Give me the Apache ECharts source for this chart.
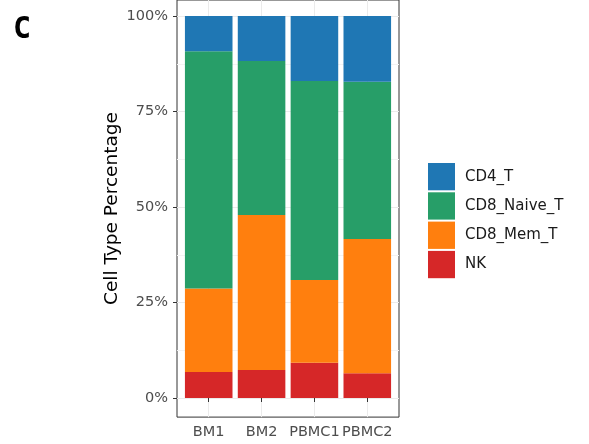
<!DOCTYPE html>
<html>
<head>
<meta charset="utf-8">
<script src="https://cdn.jsdelivr.net/npm/echarts@6/dist/echarts.min.js"></script>
<style>
  html, body { margin: 0; padding: 0; background: #ffffff; }
  #chart { width: 589px; height: 444px; }
</style>
</head>
<body>
<div id="chart"></div>
<script>
// Samples and cell-type composition (percent of cells per sample)
const categories = ['BM1', 'BM2', 'PBMC1', 'PBMC2'];
const cellTypes = ['CD4_T', 'CD8_Naive_T', 'CD8_Mem_T', 'NK'];
const nk = [6.8, 7.3, 9.2, 6.5];
const cd8Mem = [21.9, 40.6, 21.7, 35.1];
const cd8Naive = [62.1, 40.3, 52.1, 41.2];
const cd4 = [9.2, 11.8, 17.0, 17.2];
const yTicks = [0, 25, 50, 75, 100];
const yMinor = [12.5, 37.5, 62.5, 87.5];

const colors = {
  CD4_T: '#1f77b4',
  CD8_Naive_T: '#279e68',
  CD8_Mem_T: '#ff7f0e',
  NK: '#d62728'
};

// Category positions 1..n on a continuous frame axis, padded by 0.6 on each side
const xPos = categories.map((_, i) => i + 1);
const xMin = 0.4;
const xMax = categories.length + 0.6;
// The panel runs off the top edge of the canvas, so the visible range ends a little above 100%
const yMin = -5, yMax = 104.2;

const plotLeft = 177, plotRight = 399, plotTop = 0, plotBottom = 417.1;
const W = 589, H = 444;
const unitPx = (plotRight - plotLeft) / (xMax - xMin);

// Stacked from the bottom: NK, CD8_Mem_T, CD8_Naive_T, CD4_T
const stackOrder = [
  ['NK', nk],
  ['CD8_Mem_T', cd8Mem],
  ['CD8_Naive_T', cd8Naive],
  ['CD4_T', cd4]
];

const font = 'DejaVu Sans';
const tickColor = '#333333';

const chart = echarts.init(document.getElementById('chart'), null, { renderer: 'canvas' });

chart.setOption({
  animation: false,
  backgroundColor: '#ffffff',
  title: {
    text: 'C',
    left: 8,
    top: 10,
    padding: 5,
    textStyle: { fontFamily: 'DejaVu Sans Mono', fontWeight: 'bold', fontSize: 30, color: '#000000' }
  },
  grid: [
    {
      // panel frame: gridlines, ticks and labels
      left: plotLeft,
      right: W - plotRight,
      top: plotTop,
      bottom: H - plotBottom,
      show: true,
      backgroundColor: '#ffffff',
      borderColor: '#333333',
      borderWidth: 1
    },
    {
      // bar area: one category band per sample, leaving 0.1 band of padding inside the frame
      left: plotLeft + 0.1 * unitPx,
      right: W - (plotRight - 0.1 * unitPx),
      top: plotTop,
      bottom: H - plotBottom
    }
  ],
  legend: {
    orient: 'vertical',
    left: 428,
    top: 163,
    padding: 0,
    icon: 'rect',
    itemWidth: 27,
    itemHeight: 27.3,
    itemGap: 2,
    data: cellTypes,
    textStyle: { fontFamily: font, fontSize: 15, color: '#1a1a1a', padding: [0, 0, 0, 5] }
  },
  xAxis: [
    {
      type: 'value',
      gridIndex: 0,
      min: xMin,
      max: xMax,
      axisLine: { show: false },
      axisTick: {
        show: true,
        customValues: xPos,
        length: 4,
        lineStyle: { color: tickColor, width: 1 }
      },
      axisLabel: {
        customValues: xPos,
        formatter: v => categories[Math.round(v) - 1] || '',
        fontFamily: font,
        fontSize: 14.5,
        color: '#4d4d4d',
        margin: 8
      },
      splitLine: { show: true, lineStyle: { color: '#ebebeb', width: 1 } }
    },
    {
      type: 'category',
      gridIndex: 1,
      data: categories,
      boundaryGap: true,
      show: false
    }
  ],
  yAxis: [
    {
      type: 'value',
      gridIndex: 0,
      min: yMin,
      max: yMax,
      name: 'Cell Type Percentage',
      nameLocation: 'middle',
      nameGap: 55,
      nameTextStyle: { fontFamily: font, fontSize: 18.5, color: '#000000' },
      axisLine: { show: false },
      axisTick: {
        show: true,
        customValues: yTicks,
        length: 4,
        lineStyle: { color: tickColor, width: 1 }
      },
      axisLabel: {
        customValues: yTicks,
        formatter: v => v + '%',
        fontFamily: font,
        fontSize: 14.5,
        color: '#4d4d4d',
        margin: 9
      },
      splitLine: { show: true, lineStyle: { color: '#ebebeb', width: 1 } }
    },
    {
      type: 'value',
      gridIndex: 0,
      min: yMin,
      max: yMax,
      position: 'left',
      axisLine: { show: false },
      axisTick: { show: false, customValues: yMinor },
      axisLabel: { show: false, customValues: yMinor },
      splitLine: { show: true, lineStyle: { color: '#f3f3f3', width: 1 } }
    },
    {
      type: 'value',
      gridIndex: 1,
      min: yMin,
      max: yMax,
      show: false,
      splitLine: { show: false }
    }
  ],
  series: stackOrder.map(([name, values]) => ({
    name: name,
    type: 'bar',
    stack: 'composition',
    xAxisIndex: 1,
    yAxisIndex: 2,
    barWidth: '90%',
    itemStyle: { color: colors[name] },
    emphasis: { disabled: true },
    data: values
  }))
});
</script>
</body>
</html>
